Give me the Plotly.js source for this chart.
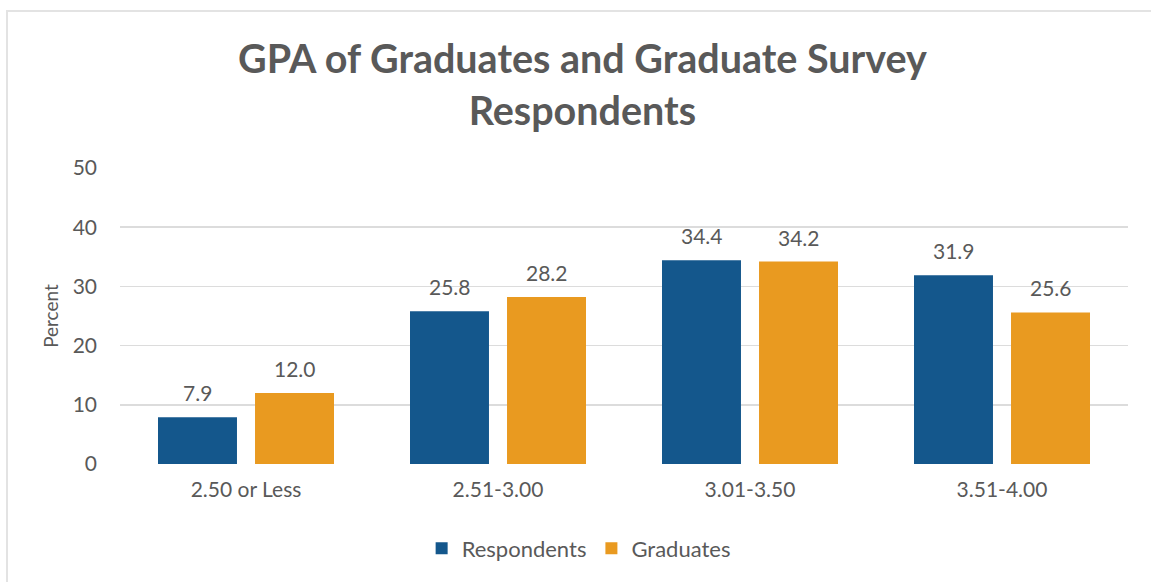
<!DOCTYPE html>
<html>
<head>
<meta charset="utf-8">
<script src="https://cdn.plot.ly/plotly-3.0.1.min.js"></script>
<style>
  html, body { margin: 0; padding: 0; background: #fff; }
  #wrap { position: relative; width: 1151px; height: 582px; }
  #chart { width: 1151px; height: 582px; }
  #frame { position: absolute; left: 6px; top: 10px; right: 0; bottom: 0;
           border-top: 2px solid #e3e3e3; border-left: 2px solid #e3e3e3; pointer-events: none; }
</style>
</head>
<body>
<div id="wrap">
  <div id="chart"></div>
  <div id="frame"></div>
</div>
<script>
const categories = ["2.50 or Less", "2.51-3.00", "3.01-3.50", "3.51-4.00"];
const respondents = [7.9, 25.8, 34.4, 31.9];
const graduates = [12.0, 28.2, 34.2, 25.6];
const seriesNames = ["Respondents", "Graduates"];
const yTicks = [0, 10, 20, 30, 40, 50];

const textColor = "#595959";
const fontFam = "Lato, 'Open Sans', sans-serif";
const blue = "#14578c";
const orange = "#e99a20";

const traces = [
  { type: "bar", name: seriesNames[0], x: categories, y: respondents,
    marker: { color: blue }, hoverinfo: "y" },
  { type: "bar", name: seriesNames[1], x: categories, y: graduates,
    marker: { color: orange }, hoverinfo: "y" }
];

const annotations = [];
const offsets = [-48.5, 48.5];
[respondents, graduates].forEach((arr, si) => {
  arr.forEach((v, i) => {
    annotations.push({
      x: categories[i], y: v, xref: "x", yref: "y",
      text: v.toFixed(1), showarrow: false,
      xshift: offsets[si], yanchor: "bottom", yshift: 10,
      font: { family: fontFam, size: 21, color: textColor }
    });
  });
});

const layout = {
  width: 1151, height: 582,
  paper_bgcolor: "rgba(0,0,0,0)", plot_bgcolor: "rgba(0,0,0,0)",
  margin: { l: 120, r: 23, t: 168, b: 118 },
  font: { family: fontFam, color: textColor, size: 21 },
  title: {
    text: "GPA of Graduates and Graduate Survey<br>Respondents",
    font: { family: fontFam, size: 39.5, color: textColor, weight: "bold" },
    x: 0.506, xanchor: "center", y: 0.874, yanchor: "middle"
  },
  barmode: "group", bargap: 0.23, bargroupgap: 0.186,
  xaxis: {
    type: "category", showgrid: false, zeroline: false, showline: false,
    ticks: "", ticklabelstandoff: 11,
    tickfont: { family: fontFam, size: 21, color: textColor }
  },
  yaxis: {
    range: [0, 50], tickvals: yTicks, ticktext: yTicks.map(String),
    showgrid: true, gridcolor: "#dcdcdc", gridwidth: 1.5,
    zeroline: false, showline: false, ticks: "", ticklabelstandoff: 22,
    tickfont: { family: fontFam, size: 21, color: textColor },
    title: { text: "Percent", standoff: 8, font: { family: fontFam, size: 19, color: textColor } }
  },
  legend: {
    orientation: "h", x: 0.455, xanchor: "center", y: -0.285, yanchor: "middle",
    font: { family: fontFam, size: 22, color: textColor },
    itemwidth: 30, traceorder: "normal"
  },
  annotations: annotations,
  showlegend: true
};

Plotly.newPlot("chart", traces, layout, { displayModeBar: false, staticPlot: true });
</script>
</body>
</html>
